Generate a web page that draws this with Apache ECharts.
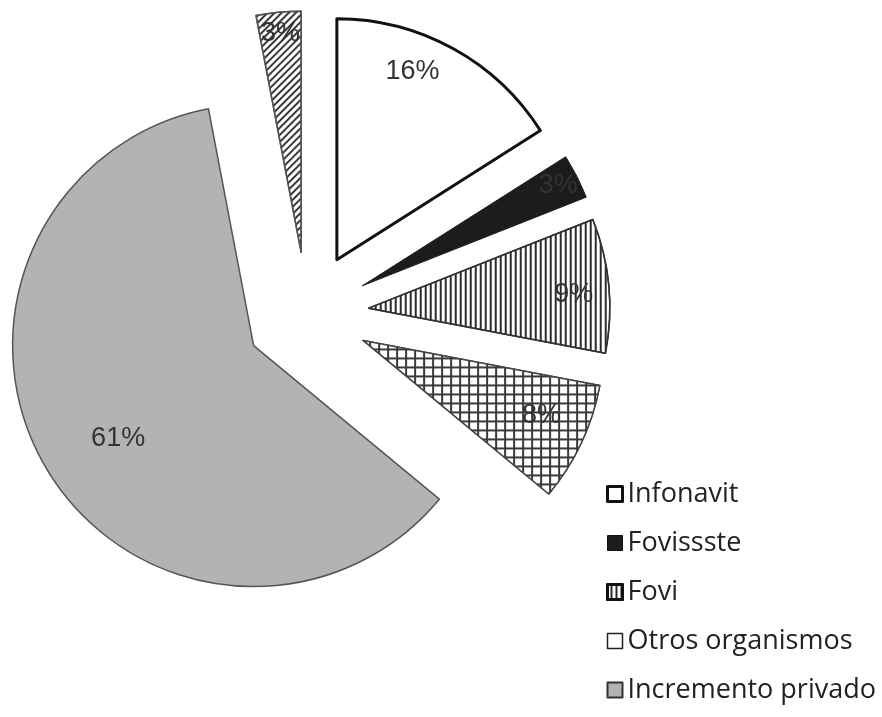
<!DOCTYPE html>
<html>
<head>
<meta charset="utf-8">
<script src="https://cdn.jsdelivr.net/npm/echarts@6/dist/echarts.min.js"></script>
<style>
  html, body { margin: 0; padding: 0; background: #fff; }
  #chart { width: 882px; height: 717px; }
</style>
</head>
<body>
<div id="chart"></div>
<script>
// Distribución del financiamiento de vivienda por organismo (%)
const categories = ['Infonavit', 'Fovissste', 'Fovi', 'Otros organismos', 'Incremento privado', 'Otros'];
const values = [16, 3, 9, 8, 61, 3];
const legendNames = ['Infonavit', 'Fovissste', 'Fovi', 'Otros organismos', 'Incremento privado'];

// ---- styling ----
const CENTER = [307, 314];
const RADIUS = 241;
const EXPLODE = 62;
// where each percentage label sits: fraction of the radius, and a small turn (degrees) off the mid angle
const labelReach = [0.83, 0.9, 0.84, 0.79, 0.67, 0.9];
const labelTurn = [-7, 0, 1.5, -2.5, -4, 0];

const decals = {
  vertical: { symbol: 'rect', symbolSize: 1, color: '#2b2b2b', dashArrayX: [1, 0], dashArrayY: [1.5, 2.5], rotation: Math.PI / 2 },
  grid: { symbol: 'rect', symbolSize: 1, color: '#ffffff', backgroundColor: '#3a3a3a', dashArrayX: [6.5, 1.5], dashArrayY: [6.5, 1.5], rotation: 0 },
  diagonal: { symbol: 'rect', symbolSize: 1, color: '#3a3a3a', dashArrayX: [1, 0], dashArrayY: [1.3, 3], rotation: -Math.PI / 4 }
};

const itemStyles = [
  { color: '#ffffff', borderColor: '#111111', borderWidth: 3 },
  { color: '#1c1c1c', borderColor: '#222222', borderWidth: 1 },
  { color: '#ffffff', borderColor: '#333333', borderWidth: 1.5, decal: decals.vertical },
  { color: '#ffffff', borderColor: '#444444', borderWidth: 1.5, decal: decals.grid },
  { color: '#b3b3b3', borderColor: '#555555', borderWidth: 1.5 },
  { color: '#ffffff', borderColor: '#555555', borderWidth: 1.5, decal: decals.diagonal }
];

const legendStyles = {
  'Infonavit': { color: '#ffffff', borderColor: '#111111', borderWidth: 3, decal: 'none' },
  'Fovissste': { color: '#1c1c1c', borderColor: '#111111', borderWidth: 1, decal: 'none' },
  'Fovi': { color: '#ffffff', borderColor: '#111111', borderWidth: 3, decal: decals.vertical },
  'Otros organismos': { color: '#ffffff', borderColor: '#222222', borderWidth: 1.5, decal: 'none' },
  'Incremento privado': { color: '#b3b3b3', borderColor: '#333333', borderWidth: 2, decal: 'none' }
};

const total = values.reduce((a, b) => a + b, 0);
// mid angle of each slice, clockwise from 12 o'clock
const midAngles = [];
let acc = 0;
values.forEach(v => {
  midAngles.push(((acc + v / 2) / total) * Math.PI * 2);
  acc += v;
});

const seriesData = categories.map((name, i) => ({
  name: name,
  value: values[i],
  selected: true,
  itemStyle: itemStyles[i],
  select: { itemStyle: itemStyles[i] }
}));

const chart = echarts.init(document.getElementById('chart'), null, { renderer: 'canvas' });
chart.setOption({
  backgroundColor: '#ffffff',
  animation: false,
  legend: {
    orient: 'vertical',
    left: 601,
    top: 475,
    icon: 'rect',
    itemWidth: 15,
    itemHeight: 15,
    itemGap: 21,
    itemTextGap: 6,
    selectedMode: false,
    textStyle: { fontFamily: 'Open Sans', fontSize: 27, color: '#222222', lineHeight: 28 },
    data: legendNames.map(n => ({ name: n, itemStyle: legendStyles[n] }))
  },
  series: [{
    type: 'pie',
    center: CENTER,
    radius: RADIUS,
    startAngle: 90,
    clockwise: true,
    selectedMode: 'multiple',
    selectedOffset: EXPLODE,
    avoidLabelOverlap: false,
    emphasis: { disabled: true },
    label: {
      show: true,
      position: 'inside',
      formatter: p => p.value + '%',
      fontFamily: 'Liberation Sans',
      fontSize: 27,
      color: '#333333'
    },
    labelLine: { show: false },
    // move each inside label from its default mid-radius spot to its own reach/turn
    labelLayout: function (params) {
      const i = params.dataIndex;
      const a = midAngles[i];
      const b = a + labelTurn[i] * Math.PI / 180;
      const r1 = labelReach[i] * RADIUS;
      const r0 = 0.5 * RADIUS;
      return {
        dx: r1 * Math.sin(b) - r0 * Math.sin(a),
        dy: -r1 * Math.cos(b) + r0 * Math.cos(a)
      };
    },
    data: seriesData
  }]
});
</script>
</body>
</html>
